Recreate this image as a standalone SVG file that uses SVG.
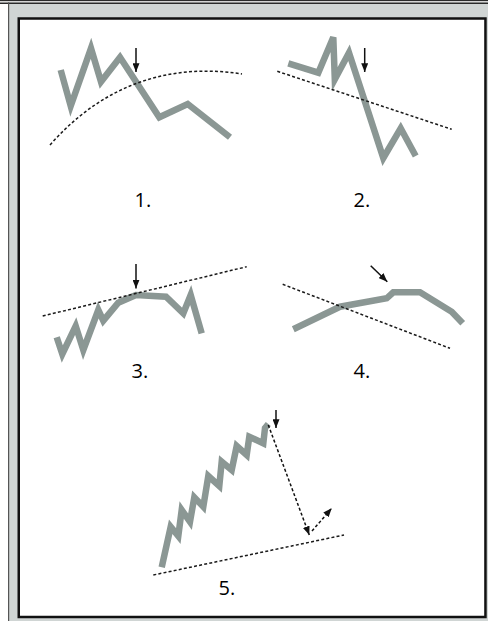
<svg xmlns="http://www.w3.org/2000/svg" width="488" height="621" viewBox="0 0 488 621">
<style>
.price{fill:none;stroke:#8b9794;stroke-width:6.5;stroke-linejoin:miter;stroke-linecap:butt}
.trend{fill:none;stroke:#1a1a1a;stroke-width:1.5;stroke-dasharray:3 2.2}
.arrow{fill:none;stroke:#111;stroke-width:1.5;marker-end:url(#ah)}
.darrow{fill:none;stroke:#111;stroke-width:1.5;stroke-dasharray:3 2.2;marker-end:url(#ah)}
.lbl{font-family:"Open Sans","Noto Sans","Liberation Sans",sans-serif;font-size:20px;fill:#000}
</style>
<defs>
<marker id="ah" viewBox="0 0 10 8" refX="10" refY="4" markerWidth="9" markerHeight="7" markerUnits="userSpaceOnUse" orient="auto">
<path d="M0,0 L10,4 L0,8 z" fill="#111"/>
</marker>
</defs>
<g id="frame">
<rect x="0" y="0" width="488" height="621" fill="#ffffff"/>
<rect x="0" y="0" width="488" height="1.2" fill="#2a2a2a"/>
<rect x="8" y="2.5" width="480" height="618.5" fill="#d0d5d4"/>
<rect x="0" y="2.5" width="488" height="1.5" fill="#2a2a2a"/>
<rect x="8" y="2.5" width="1.2" height="618.5" fill="#555"/>
<rect x="18.75" y="18.5" width="466.7" height="598.5" fill="#ffffff" stroke="#111" stroke-width="2.5"/>
</g>
<g id="chart1">
<polyline class="price" points="60.7,70 70.7,106 91,48.3 101,81.7 120,57.3 159.3,117.3 187.7,104 230,137.3"/>
<path class="trend" d="M50,145 C100,88 165,62 242,74"/>
<line class="arrow" x1="136" y1="48" x2="136" y2="72"/>
<text class="lbl" x="134.5" y="206.5">1.</text>
</g>
<g id="chart2">
<polyline class="price" points="288.3,63.3 318.3,72.7 333.3,37.3 334.8,79.3 349,52.7 383.3,158 400.7,128.3 415.7,156"/>
<line class="trend" x1="277.3" y1="71.3" x2="451.7" y2="129.3"/>
<line class="arrow" x1="364.7" y1="48" x2="364.7" y2="72"/>
<text class="lbl" x="353.5" y="206.5">2.</text>
</g>
<g id="chart3">
<polyline class="price" points="56.7,337.3 62.3,354 75.7,326 83.3,350 98.3,310 103.3,320.7 118.3,302.7 136,295 166,296.7 183.3,313.3 190.7,295 201.7,333.3"/>
<line class="trend" x1="42.7" y1="316" x2="246.7" y2="266.7"/>
<line class="arrow" x1="136" y1="264" x2="136" y2="288.5"/>
<text class="lbl" x="131.5" y="377.5">3.</text>
</g>
<g id="chart4">
<polyline class="price" points="293.3,329.3 340,306.7 386.7,298.3 393.3,292.3 420,292.3 451.7,311.7 462.7,323.3"/>
<line class="trend" x1="282.7" y1="284.3" x2="450" y2="348.3"/>
<line class="arrow" x1="370.7" y1="265.7" x2="387.3" y2="281.7"/>
<text class="lbl" x="353.5" y="377.5">4.</text>
</g>
<g id="chart5">
<polyline class="price" points="161.7,567.3 170.7,526.7 178.3,536 181.7,510 190,521.7 194.3,497.3 203.3,506.7 208.3,476 219.3,486 221.7,461.7 231.7,470 236.7,446 246.7,455 249.3,436.7 263.3,443.3 265,428 268.3,424"/>
<line class="trend" x1="153.3" y1="575" x2="344" y2="535"/>
<text class="lbl" x="218.5" y="595">5.</text>
</g>
<g id="connectors">
<line class="arrow" x1="276" y1="410" x2="276" y2="428"/>
<line class="darrow" x1="268.3" y1="425" x2="309.3" y2="535"/>
<line class="darrow" x1="312" y1="531" x2="331.7" y2="508.3"/>
</g>
</svg>
